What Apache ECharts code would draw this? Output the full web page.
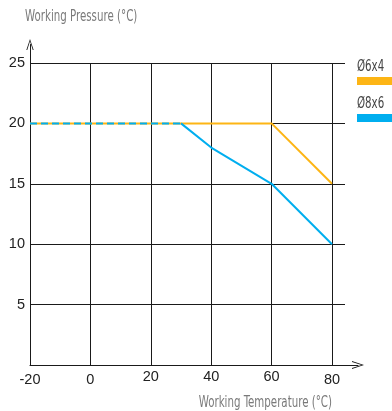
<!DOCTYPE html>
<html>
<head>
<meta charset="utf-8">
<script src="https://cdn.jsdelivr.net/npm/echarts@6/dist/echarts.min.js"></script>
<style>
html, body { margin: 0; padding: 0; background: #fff; }
#chart { width: 392px; height: 411px; }
</style>
</head>
<body>
<div id="chart"></div>
<script>
// values
var seriesNames = ['Ø6x4', 'Ø8x6'];
var temp6x4 = [-20, 60, 80];
var press6x4 = [20, 20, 15];
var temp8x6 = [-20, 30, 40, 60, 80];
var press8x6 = [20, 20, 18, 15, 10];
var dashedPoints8x6 = 2;          // first points of Ø8x6 lie on Ø6x4, drawn dashed
var tempTicks = [-20, 80, 20];    // min, max, interval
var pressTicks = [0, 25, 5];
var lowTempLabels = [-20, 0, 80]; // these labels sit a little lower
var pressureName = 'Working Pressure (°C)';
var temperatureName = 'Working Temperature (°C)';

var NARROW = "'DejaVu Sans Condensed', 'Liberation Sans', sans-serif";
var DIGITS = "'Liberation Sans', Arial, sans-serif";
var ORANGE = '#FDB515';
var BLUE = '#00AEEF';

function pairs(xs, ys, from, to)
{
	var re = [];
	for(var i = (from || 0); i < (to == undefined ? xs.length : to); i++)
		re.push([xs[i], ys[i]]);
	return re;
}

// condensed look for the texts: squeeze horizontally
function narrowText(text, x, y, size, color, align)
{
	return {
		type: 'text', x: x, y: y, scaleX: 0.76, scaleY: 1,
		style: { text: text, font: size + 'px ' + NARROW, fill: color,
			textAlign: align || 'left', textVerticalAlign: 'middle' }
	};
}

// open chevron, pointing up (rotated by echarts for the x axis)
var chevron = 'path://M0,12 L4,0 L8,12 L7,12 L4,2.5 L1,12 Z';

var chart = echarts.init(document.getElementById('chart'), null, { renderer: 'canvas' });

var option =
{
	animation: false,
	backgroundColor: '#fff',
	grid: [
		// horizontal grid lines (run a bit past 80)
		{ left: 30, right: 47, top: 63, bottom: 46 },
		// plot
		{ left: 30, right: 60, top: 63, bottom: 46 },
		// axis lines with arrows
		{ left: 30, right: 34, top: 44.5, bottom: 46 }
	],
	xAxis: [
		{ gridIndex: 0, type: 'value', min: 0, max: 1, show: false },
		{
			gridIndex: 1, type: 'value',
			min: tempTicks[0], max: tempTicks[1], interval: tempTicks[2],
			axisLine: { show: false },
			axisTick: { show: false },
			splitLine: { show: true, lineStyle: { color: '#1a1a1a', width: 1 } },
			axisLabel: {
				margin: 4,
				formatter: function(v)
				{
					return (lowTempLabels.indexOf(v) >= 0 ? '{lo|' : '{hi|') + v + '}';
				},
				rich: {
					lo: { fontFamily: DIGITS, fontSize: 14.5, color: '#222', padding: [3, 0, 0, 0] },
					hi: { fontFamily: DIGITS, fontSize: 14.5, color: '#222', padding: [0, 0, 3, 0] }
				}
			}
		},
		{
			gridIndex: 2, type: 'value', min: 0, max: 1,
			axisLine: {
				show: true, onZero: false,
				symbol: ['none', chevron], symbolSize: [8, 12],
				lineStyle: { color: '#1a1a1a', width: 1 }
			},
			axisTick: { show: false }, axisLabel: { show: false }, splitLine: { show: false }
		}
	],
	yAxis: [
		{
			gridIndex: 0, type: 'value',
			min: pressTicks[0], max: pressTicks[1], interval: pressTicks[2],
			axisLine: { show: false },
			axisTick: { show: false },
			splitLine: { show: true, lineStyle: { color: '#1a1a1a', width: 1 } },
			axisLabel: {
				margin: 5, fontFamily: DIGITS, fontSize: 14.5, color: '#222',
				formatter: function(v) { return v === 0 ? '' : String(v); }
			}
		},
		{
			gridIndex: 1, type: 'value',
			min: pressTicks[0], max: pressTicks[1], interval: pressTicks[2],
			show: false
		},
		{
			gridIndex: 2, type: 'value', min: 0, max: 1,
			axisLine: {
				show: true, onZero: false,
				symbol: ['none', chevron], symbolSize: [8, 11],
				lineStyle: { color: '#1a1a1a', width: 1 }
			},
			axisTick: { show: false }, axisLabel: { show: false }, splitLine: { show: false }
		}
	],
	series: [
		{
			name: seriesNames[0], type: 'line', xAxisIndex: 1, yAxisIndex: 1,
			data: pairs(temp6x4, press6x4),
			symbol: 'none', lineStyle: { color: ORANGE, width: 2 }, z: 3
		},
		{
			name: seriesNames[1], type: 'line', xAxisIndex: 1, yAxisIndex: 1,
			data: pairs(temp8x6, press8x6, dashedPoints8x6 - 1),
			symbol: 'none', lineStyle: { color: BLUE, width: 2 }, z: 4
		},
		{
			name: seriesNames[1], type: 'line', xAxisIndex: 1, yAxisIndex: 1,
			data: pairs(temp8x6, press8x6, 0, dashedPoints8x6),
			symbol: 'none', lineStyle: { color: BLUE, width: 2, type: [7, 4] }, z: 5
		}
	],
	graphic: [
		narrowText(pressureName, 25, 17, 15, '#7a7a7a'),
		narrowText(temperatureName, 332, 403, 15, '#7a7a7a', 'right'),
		narrowText(seriesNames[0], 357, 67.5, 15, '#444'),
		{ type: 'rect', x: 357, y: 77, shape: { width: 35, height: 8 }, style: { fill: ORANGE } },
		narrowText(seriesNames[1], 357, 104, 15, '#444'),
		{ type: 'rect', x: 357, y: 114, shape: { width: 35, height: 8 }, style: { fill: BLUE } }
	]
};

chart.setOption(option);
</script>
</body>
</html>
